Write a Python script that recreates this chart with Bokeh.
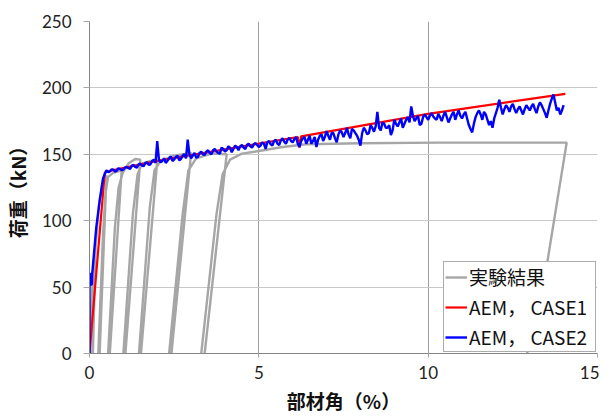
import numpy as np
from bokeh.plotting import figure
from bokeh.models import Range1d, FixedTicker, Legend, LegendItem
from bokeh.embed import file_html
from bokeh.resources import INLINE

# ---------------- data ----------------
# Experimental result (cyclic loading), NaN separates loading cycles
exp_x = [0, 0.05, 0.12, 0.18, 0.10, np.nan,
         0.08, 0.18, 0.28, 0.38, 0.50, 0.30, np.nan,
         0.26, 0.40, 0.47, 0.55, 0.70, 0.95, 0.60, np.nan,
         0.55, 0.75, 0.86, 0.98, 1.15, 1.35, 1.50, 1.06, np.nan,
         1.00, 1.28, 1.42, 1.55, 1.80, 2.00, 1.52, np.nan,
         1.46, 1.78, 1.92, 2.10, 2.50, 3.00, 2.42, np.nan,
         2.35, 2.75, 2.92, 3.15, 3.60, 4.05, 3.40, np.nan,
         3.30, 3.75, 3.93, 4.15, 4.50, 5.00, 5.70, 6.40, 8.00, 10.30, 14.09, 13.50, 12.92]
exp_y = [0, 35, 65, 80, 0, np.nan,
         0, 80, 112, 128, 134, 0, np.nan,
         0, 90, 120, 133, 136, 138, 0, np.nan,
         0, 95, 125, 136, 143, 146.5, 146, 0, np.nan,
         0, 105, 135, 143, 145, 145, 0, np.nan,
         0, 110, 138, 145, 149, 151, 0, np.nan,
         0, 105, 138, 147, 150.5, 150, 0, np.nan,
         0, 105, 135, 146, 150.5, 152.5, 155.5, 157.6, 158.3, 158.8, 158.8, 66, 0]

# AEM, CASE1
red_x = [0, 0.45, 0.50, 2.0, 5.0, 6.15, 6.20, 6.25, 10.0, 14.05]
red_y = [0, 136, 137, 145, 158, 163, 155, 163.5, 180.5, 195.5]

# AEM, CASE2
blue_init_x = [0, 0, 0.02, 0.02, 0.07, 0.08, 0.20, 0.30, 0.40]
blue_init_y = [0, 60, 60, 52, 52, 60, 95, 115, 132]
blue_step_x = np.round(np.arange(0.5, 14.0001, 0.1), 2)
blue_step_y = [
    138, 137, 138.5, 137.5, 139, 138.5, 140.5, 139, 142, 140,          # 0.5-1.4
    143, 141, 144, 142.5, 146, 160, 144, 147, 145, 148.5,              # 1.5-2.4
    146, 149, 146.5, 150, 161, 147, 151, 148, 152, 149.5,              # 2.5-3.4
    153, 150, 154, 151, 155, 152, 156, 151.5, 156.5, 153,              # 3.5-4.4
    157, 154, 158, 155, 158.5, 155.5, 159, 154, 160, 156.5,            # 4.5-5.4
    161, 157, 162, 158, 162.5, 159, 163, 155.5, 162, 158,              # 5.5-6.4
    164, 160, 155.5, 164, 160, 167.5, 161, 166, 159, 168,              # 6.5-7.4
    163, 170, 162, 168, 164, 156.5, 170, 165, 172, 167,                # 7.5-8.4
    182, 168, 173, 170, 164.5, 176, 171, 177, 173, 178,                # 8.5-9.4
    186, 175, 179, 173, 180, 176, 181, 177, 180.5, 175,                # 9.5-10.4
    182, 174, 180, 176, 183, 177, 182, 172, 166.5, 178,                # 10.5-11.4
    183, 176, 180, 172, 170, 181, 191, 180, 187, 182,                  # 11.5-12.4
    188, 181, 186, 180, 187, 183, 188, 181, 189, 184,                  # 12.5-13.4
    177.5, 188, 195, 183, 180, 187                                     # 13.5-14.0
]
blue_mid_x = np.round(np.arange(0.55, 13.96, 0.1), 2)
blue_mid_y = [
    136.5, 138.5, 137, 139.5, 138, 140, 139.5, 141.5, 140.5, 142.5,    # 0.55-1.45
    141.5, 143.5, 142, 145, 143.5, 146, 145, 143.5, 147, 145,          # 1.55-2.45
    148, 145.5, 149, 147, 150, 149, 147.5, 151, 150, 152,              # 2.55-3.45
    151, 153, 152, 150.5, 154, 153, 155, 154, 155.5, 156,              # 3.55-4.45
    155, 157, 156, 157.5, 157, 156.5, 158, 159, 157.5, 160,            # 4.55-5.45
    158, 160.5, 159.5, 161, 160, 161.5, 158, 160, 163, 161,            # 5.55-6.45
    158, 163, 161, 165, 163, 164, 166, 162, 165, 166.5,                # 6.55-7.45
    166, 165, 169, 166, 161, 166, 168, 166, 170, 171,                  # 7.55-8.45
    170, 174, 170, 172, 168, 173, 174, 170, 176, 174,                  # 8.55-9.45
    179, 177, 172, 178, 178, 179, 178.5, 176, 178, 179,                # 9.55-10.45
    178, 177, 182, 180, 179, 180, 177, 169, 173, 181,                  # 10.55-11.45
    180, 182, 176, 175, 177, 185, 185, 184, 185, 186,                  # 11.55-12.45
    184, 184, 183, 184, 185, 186, 184, 186, 187, 181,                  # 12.55-13.45
    183, 192, 189, 185, 183                                            # 13.55-13.95
]
_sx = np.concatenate([blue_step_x, blue_mid_x])
_sy = np.concatenate([blue_step_y, blue_mid_y])
_order = np.argsort(_sx, kind="stable")
blue_x = list(blue_init_x) + list(_sx[_order])
blue_y = list(blue_init_y) + list(_sy[_order])

x_ticks = [0, 5, 10, 15]
y_ticks = [0, 50, 100, 150, 200, 250]

labels = ["実験結果", "AEM， CASE1", "AEM， CASE2"]
x_title = "部材角（%）"
y_title = "荷重（kN）"

# ---------------- figure ----------------
p = figure(width=599, height=416, output_backend="svg", toolbar_location=None,
           x_range=Range1d(0, 15), y_range=Range1d(0, 250),
           min_border_left=79, min_border_right=2, min_border_top=21, min_border_bottom=61)
p.outline_line_color = None
p.background_fill_color = "white"
p.border_fill_color = "white"

g = p.line(exp_x, exp_y, line_color="#A6A6A6", line_width=2.4)
r = p.line(red_x, red_y, line_color="#FF0000", line_width=2.2)
b = p.line(blue_x, blue_y, line_color="#0000FF", line_width=2.4)

tick_font = "Lato"
for ax in (p.xaxis[0], p.yaxis[0]):
    ax.axis_line_color = "#868686"
    ax.major_tick_line_color = "#A6A6A6"
    ax.minor_tick_line_color = None
    ax.major_tick_in = 0
    ax.major_label_text_font = tick_font
    ax.major_label_text_font_size = "17px"
    ax.major_label_text_color = "#222222"
    ax.axis_label_text_font = "Noto Sans CJK JP"
    ax.axis_label_text_font_style = "bold"
    ax.axis_label_text_font_size = "19px"
    ax.axis_label_text_color = "#111111"

p.xaxis.ticker = FixedTicker(ticks=x_ticks)
p.yaxis.ticker = FixedTicker(ticks=y_ticks)
p.xaxis.major_tick_out = 4
p.yaxis.major_tick_out = 6
p.xaxis.major_label_standoff = 8
p.yaxis.major_label_standoff = 12
p.xaxis.axis_label = x_title
p.yaxis.axis_label = y_title
p.xaxis.axis_label_standoff = 5
p.yaxis.axis_label_standoff = 8

p.xgrid.ticker = FixedTicker(ticks=x_ticks)
p.ygrid.ticker = FixedTicker(ticks=y_ticks)
p.xgrid.grid_line_color = "#A0A0A0"
p.ygrid.grid_line_color = "#C8C8C8"

legend = Legend(items=[LegendItem(label=labels[0], renderers=[g]),
                       LegendItem(label=labels[1], renderers=[r]),
                       LegendItem(label=labels[2], renderers=[b])],
                location="bottom_right")
legend.label_text_font = "Noto Sans CJK JP"
legend.label_text_font_size = "19px"
legend.label_text_line_height = 1.0
legend.label_text_color = "#111111"
legend.border_line_color = "#595959"
legend.border_line_width = 1
legend.background_fill_alpha = 1
legend.glyph_width = 22
legend.glyph_height = 20
legend.label_height = 20
legend.label_width = 125
legend.label_standoff = 2
legend.spacing = 3
legend.padding = 1
legend.margin = 1
p.add_layout(legend)

open("out.html", "w").write(file_html(p, INLINE))
